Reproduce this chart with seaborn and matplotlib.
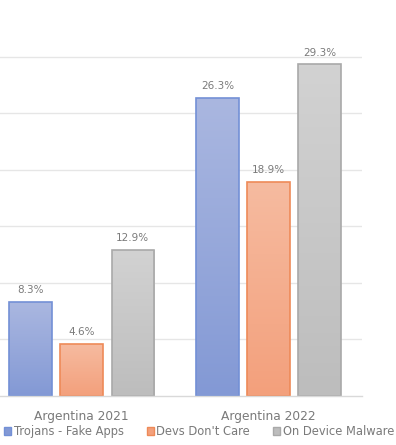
import numpy as np
import pandas as pd
import matplotlib
matplotlib.use("Agg")
import matplotlib.pyplot as plt
import seaborn as sns
from matplotlib.patches import Patch
from matplotlib.colors import LinearSegmentedColormap

categories = ["Argentina 2021", "Argentina 2022"]
series = ["Trojans - Fake Apps", "Devs Don't Care", "On Device Malware"]
trojans = [8.3, 26.3]
devs = [4.6, 18.9]
malware = [12.9, 29.3]
labels_fmt = "{:.1f}%"

fill_top = ["#aab7e0", "#f6bba0", "#d2d2d2"]
fill_bot = ["#8399d5", "#f3a07c", "#bdbdbd"]
edges = ["#7390d6", "#ee8a58", "#a9a9a9"]
text_color = "#7a7a7a"

rows = []
for s, vals in zip(series, [trojans, devs, malware]):
    for c, v in zip(categories, vals):
        rows.append({"category": c, "series": s, "value": v})
df = pd.DataFrame(rows)

sns.set_theme(style="white")
plt.rcParams["font.family"] = ["DejaVu Sans"]

fig = plt.figure(figsize=(3.96, 4.45), dpi=100)
left = -11.8 / 396
right = 362 / 396
ax = fig.add_axes([left, 1 - 396 / 445, right - left, 396 / 445])

sns.barplot(data=df, x="category", y="value", hue="series", order=categories,
            hue_order=series, width=0.82, gap=0.17, ax=ax, legend=False,
            palette=fill_bot)

ax.set_xlim(-0.5, 1.5)
ax.set_ylim(0, 35)
ax.set_yticks([5, 10, 15, 20, 25, 30])
ax.yaxis.grid(True, color="#e6e6e6", linewidth=1)
ax.set_axisbelow(True)
for sp in ["left", "right", "top"]:
    ax.spines[sp].set_visible(False)
ax.spines["bottom"].set_color("#d9d9d9")
ax.spines["bottom"].set_linewidth(1)
ax.tick_params(axis="y", left=False, labelleft=False)
ax.tick_params(axis="x", bottom=False, colors=text_color, labelsize=8.8, pad=4)
ax.set_xlabel("")
ax.set_ylabel("")

for i, s in enumerate(series):
    cont = ax.containers[i]
    cmap = LinearSegmentedColormap.from_list("g", [fill_bot[i], fill_top[i]])
    for p in cont.patches:
        p.set_edgecolor(edges[i])
        p.set_linewidth(1.2)
        x0, y0 = p.get_x(), p.get_y()
        w, h = p.get_width(), p.get_height()
        grad = np.linspace(0, 1, 100).reshape(-1, 1)
        im = ax.imshow(grad, extent=[x0, x0 + w, y0, y0 + h], origin="lower",
                       cmap=cmap, aspect="auto", zorder=p.get_zorder() - 0.1)
        im.set_clip_path(p)
        p.set_facecolor("none")
    ax.bar_label(cont, labels=[labels_fmt.format(v) for v in cont.datavalues],
                 padding=5, color=text_color, fontsize=7.5)
ax.set_xlim(-0.5, 1.5)
ax.set_ylim(0, 35)

handles = [Patch(facecolor=fill_bot[i], edgecolor=edges[i], linewidth=1) for i in range(3)]
fig.legend(handles, series, loc="lower left", bbox_to_anchor=(-0.008, 0.0),
           ncol=3, frameon=False, fontsize=8.3, labelcolor=text_color,
           handlelength=0.6, handleheight=0.6, handletextpad=0.25, columnspacing=2.0,
           borderaxespad=0.2)

fig.savefig("out.png", dpi=100)
